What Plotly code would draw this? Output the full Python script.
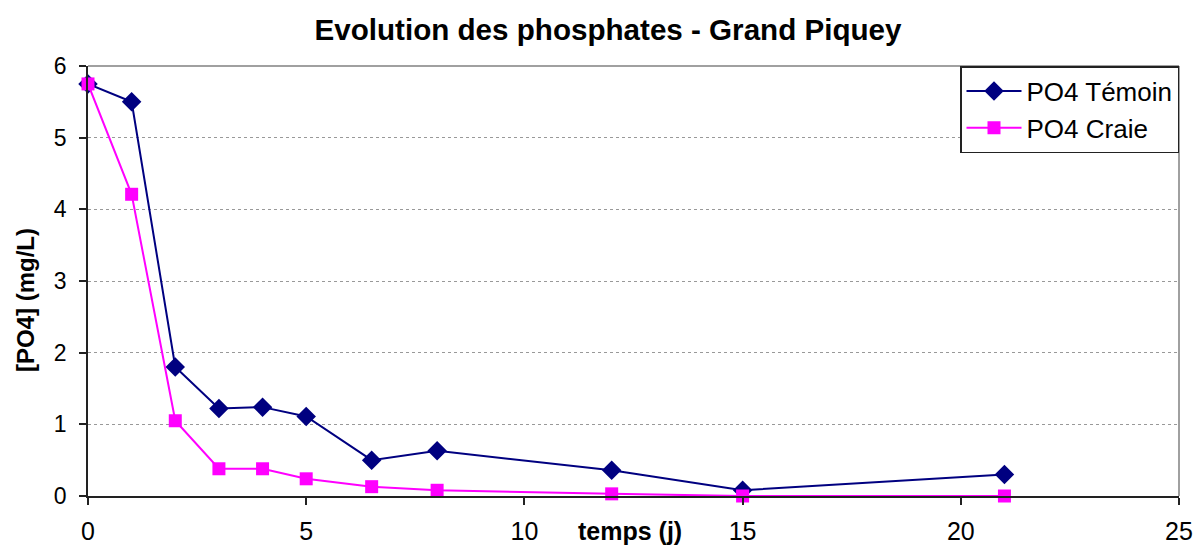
import plotly.graph_objects as go

temps = [0, 1, 2, 3, 4, 5, 6.5, 8, 12, 15, 21]
po4_temoin = [5.75, 5.5, 1.8, 1.22, 1.24, 1.11, 0.5, 0.63, 0.36, 0.08, 0.3]
po4_craie = [5.75, 4.21, 1.05, 0.38, 0.38, 0.24, 0.13, 0.08, 0.03, 0.0, 0.0]
x_ticks = [0, 5, 10, 15, 20, 25]
y_ticks = [0, 1, 2, 3, 4, 5, 6]

W, H = 1202, 546
ml, mr, mt, mb = 88, 23, 66, 50
pw, ph = W - ml - mr, H - mt - mb

fig = go.Figure()
fig.add_trace(go.Scatter(
    x=temps, y=po4_temoin, name="PO4 Témoin", mode="lines+markers",
    line=dict(color="#000080", width=2),
    marker=dict(symbol="diamond", size=15, color="#000080"),
    cliponaxis=False,
))
fig.add_trace(go.Scatter(
    x=temps, y=po4_craie, name="PO4 Craie", mode="lines+markers",
    line=dict(color="#FF00FF", width=2),
    marker=dict(symbol="square", size=13, color="#FF00FF"),
    cliponaxis=False,
))

font = "Liberation Sans, Arial, sans-serif"
fig.update_layout(
    width=W, height=H,
    margin=dict(l=ml, r=mr, t=mt, b=mb, autoexpand=False),
    paper_bgcolor="white", plot_bgcolor="white",
    font=dict(family=font, color="black", size=22),
    title=dict(text="<b>Evolution des phosphates - Grand Piquey</b>",
               x=608 / W, xanchor="center", y=1 - 30 / H, yanchor="middle",
               font=dict(size=29.6, family=font)),
    xaxis=dict(range=[0, 25], tickvals=x_ticks, showgrid=False, zeroline=False,
               showline=True, linecolor="#222222", linewidth=1.5,
               ticks="outside", ticklen=7, tickcolor="#222222", tickwidth=1.5,
               tickfont=dict(size=25), ticklabelstandoff=5),
    yaxis=dict(range=[0, 6], tickvals=y_ticks, showgrid=True, gridcolor="#999999",
               griddash="dot", gridwidth=1, zeroline=False,
               showline=True, linecolor="#222222", linewidth=1.5,
               ticks="outside", ticklen=7, tickcolor="#222222", tickwidth=1.5,
               tickfont=dict(size=23), ticklabelstandoff=8),
    legend=dict(x=1, xanchor="right", y=1, yanchor="top",
                bordercolor="#222222", borderwidth=1.5, bgcolor="white",
                font=dict(size=26), itemwidth=55, tracegroupgap=8),
    showlegend=True,
)
# plot area border (top & right)
fig.add_shape(type="line", xref="paper", yref="paper", x0=0, x1=1, y0=1, y1=1,
              line=dict(color="#808080", width=1.5))
fig.add_shape(type="line", xref="paper", yref="paper", x0=1, x1=1, y0=0, y1=1,
              line=dict(color="#808080", width=1.5))

fig.add_annotation(text="<b>[PO4] (mg/L)</b>", xref="paper", yref="paper",
                   x=-(ml - 25) / pw, y=1 - (300 - mt) / ph,
                   xanchor="center", yanchor="middle", textangle=-90, showarrow=False,
                   font=dict(size=24, family=font))
fig.add_annotation(text="<b>temps (j)</b>", xref="paper", yref="paper",
                   x=(630 - ml) / pw, y=-(531 - (H - mb)) / ph,
                   xanchor="center", yanchor="middle", showarrow=False,
                   font=dict(size=25, family=font))

fig.write_html("out.html", config={"displayModeBar": False},
               post_script="document.body.style.margin='0';document.body.style.overflow='hidden';")
